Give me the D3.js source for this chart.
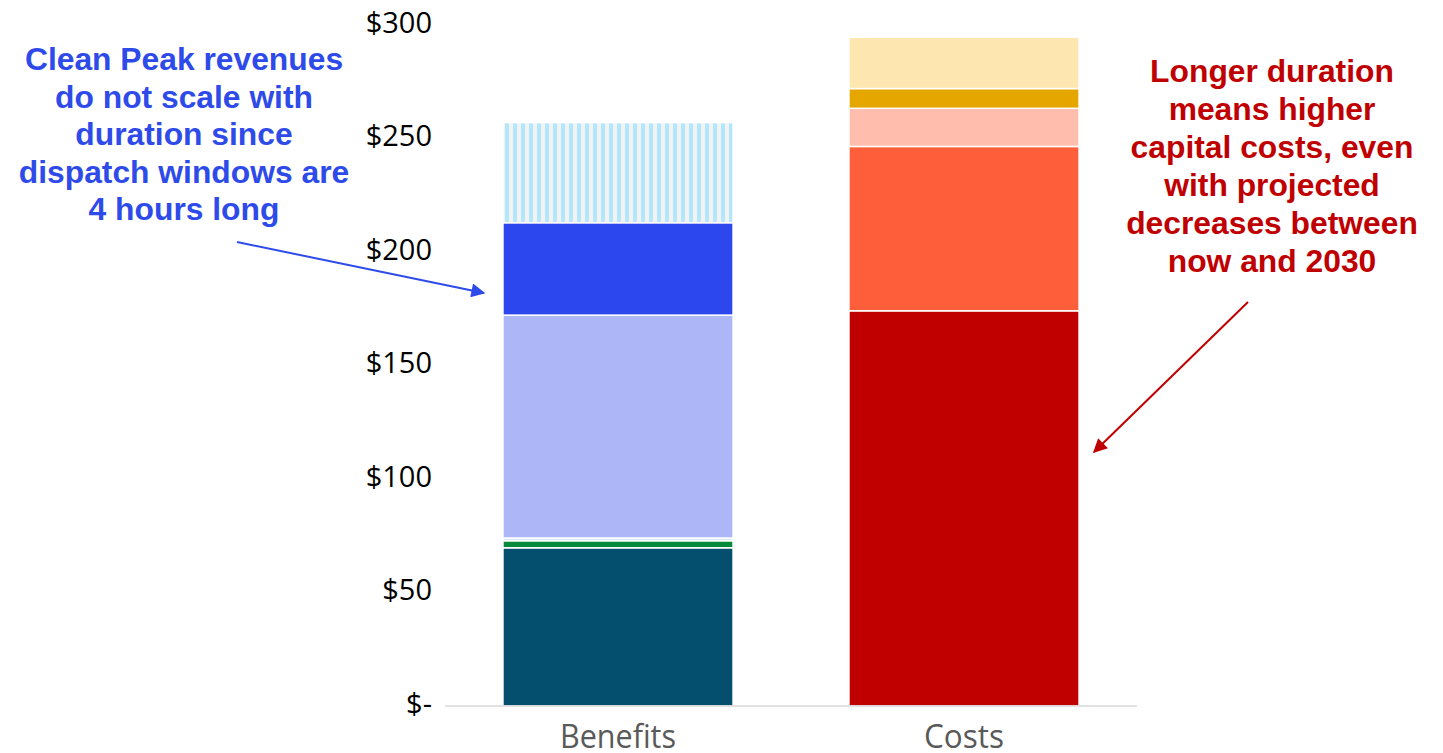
<!DOCTYPE html>
<html>
<head>
<meta charset="utf-8">
<script src="https://cdn.jsdelivr.net/npm/d3@7"></script>
<style>
  html, body { margin: 0; padding: 0; background: #fff; }
  svg { display: block; }
</style>
</head>
<body>
<svg id="chart" width="1443" height="753"></svg>
<script>
// ---- data ----
const categories = ["Benefits", "Costs"];
const benefitNames = ["Benefit A", "Benefit B", "Benefit C", "Benefit D", "Clean Peak", "Clean Peak (longer duration)"];
const benefitValues = [69.7, 3.1, 1.2, 98.2, 40.7, 44.1];
const benefitColors = ["#034F6D", "#048A3A", "#DCE8F8", "#ADB6F7", "#2D47EE", "url(#stripes)"];
const costNames = ["Cost A", "Cost B", "Cost C", "Cost D", "Cost E"];
const costValues = [174.1, 72.4, 16.8, 8.7, 22.6];
const costColors = ["#C00000", "#FF5E3A", "#FFBEAD", "#E6A600", "#FDE6AF"];
const tickValues = [0, 50, 100, 150, 200, 250, 300];
const blueNote = ["Clean Peak revenues", "do not scale with", "duration since", "dispatch windows are", "4 hours long"];
const redNote = ["Longer duration", "means higher", "capital costs, even", "with projected", "decreases between", "now and 2030"];

// ---- build ----
const svg = d3.select("#chart");
const defs = svg.append("defs");

const pat = defs.append("pattern")
  .attr("id", "stripes").attr("patternUnits", "userSpaceOnUse")
  .attr("x", 505).attr("y", 0).attr("width", 8).attr("height", 8);
pat.append("rect").attr("width", 8).attr("height", 8).attr("fill", "#F2F2F2");
pat.append("rect").attr("width", 4).attr("height", 8).attr("fill", "#B2E6FB");

function marker(id, color) {
  defs.append("marker").attr("id", id)
    .attr("viewBox", "0 0 10 10").attr("refX", 9).attr("refY", 5)
    .attr("markerUnits", "userSpaceOnUse")
    .attr("markerWidth", 16).attr("markerHeight", 14)
    .attr("orient", "auto")
    .append("path").attr("d", "M0,0 L10,5 L0,10 Z").attr("fill", color);
}
marker("arrBlue", "#2E4BEA");
marker("arrRed", "#C00000");

const x = d3.scaleBand().domain(categories).range([445, 1137])
  .paddingInner(0.335).paddingOuter(0.1675);
const y = d3.scaleLinear().domain([0, 300]).range([706, 25]);

const table = [
  { cat: "Benefits", names: benefitNames, values: benefitValues, colors: benefitColors },
  { cat: "Costs", names: costNames, values: costValues, colors: costColors }
];

table.forEach(col => {
  const ends = d3.cumsum(col.values);
  const segs = col.values.map((v, i) => ({
    name: col.names[i], y0: ends[i] - v, y1: ends[i], color: col.colors[i]
  }));
  svg.append("g").selectAll("rect").data(segs).join("rect")
    .attr("x", x(col.cat))
    .attr("width", x.bandwidth())
    .attr("y", d => y(d.y1))
    .attr("height", d => y(d.y0) - y(d.y1))
    .attr("fill", d => d.color)
    .attr("stroke", "#fff")
    .attr("stroke-width", 1.5);
});

// x axis line
svg.append("line")
  .attr("x1", x.range()[0]).attr("x2", x.range()[1])
  .attr("y1", y(0)).attr("y2", y(0))
  .attr("stroke", "#D9D9D9").attr("stroke-width", 1.5);

// y axis
const yAxis = svg.append("g").attr("transform", "translate(445,0)")
  .call(d3.axisLeft(y).tickValues(tickValues).tickSize(0).tickPadding(13)
    .tickFormat(d => d === 0 ? "$-" : "$" + d));
yAxis.select(".domain").remove();
yAxis.selectAll("text")
  .attr("font-family", "'Open Sans', sans-serif")
  .attr("font-size", 29)
  .attr("fill", "#000")
  .attr("dy", "0.25em");

// x category labels
svg.append("g").selectAll("text").data(categories).join("text")
  .attr("x", d => x(d) + x.bandwidth() / 2)
  .attr("y", 748)
  .attr("text-anchor", "middle")
  .attr("font-family", "'Open Sans', sans-serif")
  .attr("font-size", 33)
  .attr("fill", "#595959")
  .attr("textLength", d => d === "Benefits" ? 116 : 80)
  .attr("lengthAdjust", "spacingAndGlyphs")
  .text(d => d);

// annotations
svg.append("g").selectAll("text").data(blueNote).join("text")
  .attr("x", 184).attr("y", (d, i) => 70 + i * 37.6)
  .attr("text-anchor", "middle")
  .attr("font-family", "'Liberation Sans', Arial, sans-serif")
  .attr("font-weight", "bold")
  .attr("font-size", 31.8)
  .attr("fill", "#2E4BEA")
  .text(d => d);

svg.append("g").selectAll("text").data(redNote).join("text")
  .attr("x", 1272).attr("y", (d, i) => 82 + i * 38)
  .attr("text-anchor", "middle")
  .attr("font-family", "'Liberation Sans', Arial, sans-serif")
  .attr("font-weight", "bold")
  .attr("font-size", 31.8)
  .attr("fill", "#C00000")
  .text(d => d);

svg.append("line")
  .attr("x1", 237).attr("y1", 242).attr("x2", 484).attr("y2", 293)
  .attr("stroke", "#2E4BEA").attr("stroke-width", 2)
  .attr("marker-end", "url(#arrBlue)");

svg.append("line")
  .attr("x1", 1248).attr("y1", 302).attr("x2", 1094).attr("y2", 452)
  .attr("stroke", "#C00000").attr("stroke-width", 2)
  .attr("marker-end", "url(#arrRed)");
</script>
</body>
</html>
